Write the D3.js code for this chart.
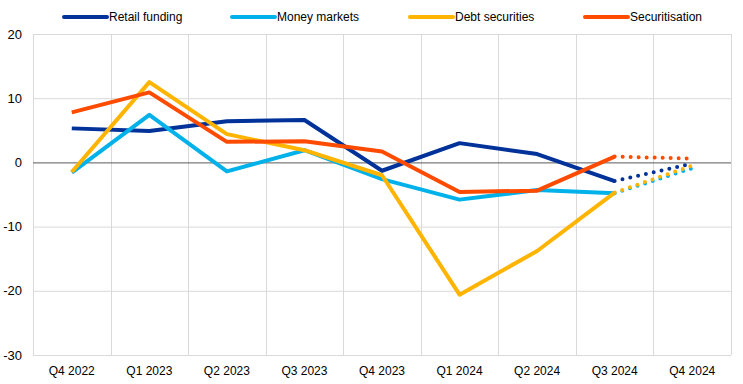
<!DOCTYPE html>
<html>
<head>
<meta charset="utf-8">
<script src="https://cdn.jsdelivr.net/npm/d3@7"></script>
<style>
  body { margin: 0; background: #fff; }
  text { font-family: Arial, "Liberation Sans", sans-serif; }
</style>
</head>
<body>
<div id="chart"></div>
<script>
const quarters = ["Q4 2022", "Q1 2023", "Q2 2023", "Q3 2023", "Q4 2023", "Q1 2024", "Q2 2024", "Q3 2024", "Q4 2024"];
const yTicks = [20, 10, 0, -10, -20, -30];

const seriesNames = ["Retail funding", "Money markets", "Debt securities", "Securitisation"];
const seriesColors = ["#003299", "#00b1ea", "#ffb400", "#ff4b00"];

// last value (Q4 2024) is drawn dotted
const retailFunding  = [5.3, 4.9, 6.4, 6.6, -1.3, 3.0, 1.3, -2.9, -0.2];
const moneyMarkets   = [-1.6, 7.4, -1.4, 1.9, -2.6, -5.8, -4.3, -4.8, -0.9];
const debtSecurities = [-1.5, 12.5, 4.4, 1.9, -2.0, -20.6, -13.8, -4.7, -0.5];
const securitisation = [7.8, 10.9, 3.2, 3.3, 1.7, -4.6, -4.4, 0.9, 0.6];

const allSeries = [retailFunding, moneyMarkets, debtSecurities, securitisation];

const width = 743, height = 384;
const margin = { top: 34, right: 12, bottom: 29, left: 33 };

const svg = d3.select("#chart").append("svg")
    .attr("width", width)
    .attr("height", height);

const x = d3.scaleBand()
    .domain(quarters)
    .range([margin.left, width - margin.right]);

const y = d3.scaleLinear()
    .domain([-30, 20])
    .range([height - margin.bottom, margin.top]);

// horizontal grid
svg.append("g")
    .selectAll("line")
    .data(yTicks.filter(d => d !== 0))
    .enter().append("line")
    .attr("x1", margin.left)
    .attr("x2", width - margin.right)
    .attr("y1", d => y(d) + 0.5)
    .attr("y2", d => y(d) + 0.5)
    .attr("stroke", "#d9d9d9");

// vertical grid at category boundaries
const bounds = quarters.map(q => x(q)).concat([width - margin.right]);
svg.append("g")
    .selectAll("line")
    .data(bounds)
    .enter().append("line")
    .attr("x1", d => Math.round(d) + 0.5)
    .attr("x2", d => Math.round(d) + 0.5)
    .attr("y1", y(20))
    .attr("y2", y(-30))
    .attr("stroke", "#d9d9d9");

// zero line
svg.append("line")
    .attr("x1", margin.left)
    .attr("x2", width - margin.right)
    .attr("y1", y(0) + 0.5)
    .attr("y2", y(0) + 0.5)
    .attr("stroke", "#595959")
    .attr("stroke-width", 1);

// y labels
svg.append("g")
    .selectAll("text")
    .data(yTicks)
    .enter().append("text")
    .attr("x", 22)
    .attr("y", d => y(d))
    .attr("dy", "0.35em")
    .attr("text-anchor", "end")
    .attr("font-size", 13)
    .attr("fill", "#000")
    .text(d => d);

// x labels
svg.append("g")
    .selectAll("text")
    .data(quarters)
    .enter().append("text")
    .attr("x", d => x(d) + x.bandwidth() / 2)
    .attr("y", height - 9)
    .attr("text-anchor", "middle")
    .attr("font-size", 12)
    .attr("fill", "#000")
    .text(d => d);

const cx = q => x(q) + x.bandwidth() / 2;
const line = d3.line()
    .x(d => cx(d.q))
    .y(d => y(d.v));

allSeries.forEach((vals, i) => {
    const pts = vals.map((v, j) => ({ q: quarters[j], v: v }));
    const n = pts.length;

    svg.append("path")
        .datum(pts.slice(0, n - 1))
        .attr("d", line)
        .attr("fill", "none")
        .attr("stroke", seriesColors[i])
        .attr("stroke-width", 4)
        .attr("stroke-linejoin", "round");

    svg.append("path")
        .datum(pts.slice(n - 2))
        .attr("d", line)
        .attr("fill", "none")
        .attr("stroke", seriesColors[i])
        .attr("stroke-width", 4)
        .attr("stroke-linecap", "round")
        .attr("stroke-dasharray", "0 8");
});

// legend
const legendX = [64, 232, 410, 585];
const legend = svg.append("g");
seriesNames.forEach((name, i) => {
    legend.append("line")
        .attr("x1", legendX[i])
        .attr("x2", legendX[i] + 43)
        .attr("y1", 17)
        .attr("y2", 17)
        .attr("stroke", seriesColors[i])
        .attr("stroke-width", 4)
        .attr("stroke-linecap", "round");
    legend.append("text")
        .attr("x", legendX[i] + 45)
        .attr("y", 17)
        .attr("dy", "0.35em")
        .attr("font-size", 12)
        .attr("fill", "#000")
        .text(name);
});
</script>
</body>
</html>
